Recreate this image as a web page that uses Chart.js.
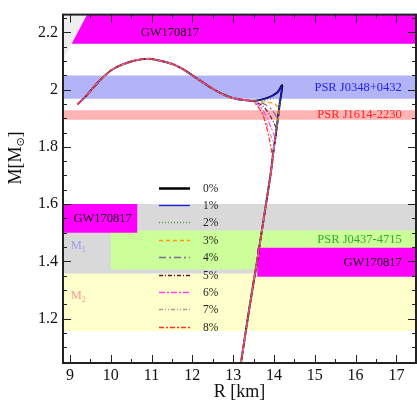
<!DOCTYPE html>
<html>
<head>
<meta charset="utf-8">
<script src="https://cdn.jsdelivr.net/npm/chart.js@4.4.1/dist/chart.umd.min.js"></script>
<style>
  html, body { margin: 0; padding: 0; background: #fff; }
  #wrap { width: 417px; height: 402px; }
</style>
</head>
<body>
<div id="wrap"><canvas id="myChart" width="417" height="402"></canvas></div>
<script>
      // Axis limits and ticks
      const rMin = 8.83, rMax = 17.48;
      const mMin = 1.045, mMax = 2.262;
      const xTicks = [9, 10, 11, 12, 13, 14, 15, 16, 17];
      const yTicks = [1.2, 1.4, 1.6, 1.8, 2, 2.2];

      const curveLabels = ['0%', '1%', '2%', '3%', '4%', '5%', '6%', '7%', '8%'];

      // left branch, common to all curves (R km, M Msun)
      const upperR = [9.19, 9.41, 9.73, 10.06, 10.54, 10.95, 11.20, 11.52, 11.76, 12.01, 12.25, 12.50, 12.74, 12.98, 13.31];
      const upperM = [1.949, 1.980, 2.032, 2.072, 2.100, 2.108, 2.101, 2.089, 2.072, 2.049, 2.026, 2.003, 1.984, 1.971, 1.963];

      // stable branch going down to the bottom axis
      const stableR = [14.20, 14.14, 14.08, 14.00, 13.92, 13.75, 13.585, 13.40, 13.19];
      const stableM = [2.015, 1.95, 1.88, 1.80, 1.707, 1.55, 1.40, 1.24, 1.045];

      // the part near the cusp, one per curve
      const bendR = [
        [13.55, 13.84, 14.08, 14.20],
        [13.55, 13.84, 14.08, 14.19],
        [13.55, 13.84, 14.05, 14.15],
        [13.55, 13.83, 14.02, 14.12],
        [13.55, 13.78, 13.95, 14.09],
        [13.52, 13.72, 13.88, 14.06],
        [13.49, 13.66, 13.80, 13.92, 14.03],
        [13.46, 13.62, 13.76, 13.87, 14.00],
        [13.45, 13.55, 13.71, 13.80, 13.88, 13.94, 13.965]
      ];
      const bendM = [
        [1.961, 1.971, 1.990, 2.015],
        [1.961, 1.970, 1.988, 2.010],
        [1.960, 1.964, 1.972, 1.962],
        [1.960, 1.956, 1.950, 1.930],
        [1.959, 1.948, 1.930, 1.895],
        [1.959, 1.943, 1.915, 1.860],
        [1.960, 1.942, 1.910, 1.870, 1.830],
        [1.961, 1.943, 1.905, 1.860, 1.800],
        [1.961, 1.950, 1.918, 1.878, 1.832, 1.786, 1.760]
      ];

      // mass bands (null R = full width)
      const bandNames = ['M2', 'M1', 'PSR J0437-4715', 'GW170817 M1', 'GW170817 M2', 'PSR J1614-2230', 'PSR J0348+0432'];
      const bandRlo = [null, null, 10.0, null, 13.59, null, null];
      const bandRhi = [null, null, null, 10.65, null, null, null];
      const bandMlo = [1.157, 1.357, 1.372, 1.50, 1.346, 1.895, 1.968];
      const bandMhi = [1.357, 1.600, 1.508, 1.60, 1.448, 1.928, 2.049];

      // GW170817 upper limit region (top) and its grey shade
      const gwTopR = [9.415, rMax, rMax, 9.04];
      const gwTopM = [mMax, mMax, 2.16, 2.16];
      const gwShadeR = [rMin, 9.415, 9.04, rMin];
      const gwShadeM = [mMax, mMax, 2.16, 2.103];

      // Styles
      const curveColors = ['#000000', '#1a1aee', '#4aa04a', '#ff9900', '#7f6a9f', '#6b1038', '#ff44ff', '#c0909a', '#ff3030'];
      const curveWidths = [2, 1.2, 1.2, 1.2, 1.2, 1.2, 1.2, 1.2, 1.2];
      const curveDashes = [[], [], [1, 2], [4, 3], [7, 3, 2, 3], [4, 2, 1, 2], [6, 2, 2, 2], [4, 2, 1, 2, 1, 2], [5, 2, 2, 2]];
      const bandColors = ['#ffffcc', '#d9d9d9', '#ccff99', '#ff00ff', '#ff00ff', '#ffb3b3', '#b3b3f7'];
      const bandOrder = [30, 30, 25, 20, 20, 22, 22];

      const serif = "'Liberation Serif', 'Times New Roman', serif";

      function curvePoints(i) {
        const pts = [];
        const r0 = bendR[i][0];
        for (let k = 0; k < upperR.length; k++) {
          if (upperR[k] < r0) pts.push({x: upperR[k], y: upperM[k]});
        }
        for (let k = 0; k < bendR[i].length; k++) {
          pts.push({x: bendR[i][k], y: bendM[i][k]});
        }
        const mJoin = bendM[i][bendM[i].length - 1];
        for (let k = 0; k < stableR.length; k++) {
          if (stableM[k] < mJoin) pts.push({x: stableR[k], y: stableM[k]});
        }
        return pts;
      }

      function polygon(rs, ms) {
        return rs.map((r, k) => ({x: r, y: ms[k]}));
      }

      const datasets = [];

      // curves, 8% on top
      curveLabels.forEach((lab, i) => {
        datasets.push({
          label: lab,
          data: curvePoints(i),
          showLine: true,
          borderColor: curveColors[i],
          borderWidth: curveWidths[i],
          borderDash: curveDashes[i],
          pointRadius: 0,
          tension: 0.25,
          fill: false,
          order: 10 - i
        });
      });

      bandNames.forEach((name, i) => {
        const r1 = bandRlo[i] === null ? rMin : bandRlo[i];
        const r2 = bandRhi[i] === null ? rMax : bandRhi[i];
        datasets.push({
          label: name,
          data: polygon([r1, r2, r2, r1], [bandMlo[i], bandMlo[i], bandMhi[i], bandMhi[i]]),
          showLine: true,
          borderWidth: 0,
          borderColor: 'rgba(0,0,0,0)',
          backgroundColor: bandColors[i],
          pointRadius: 0,
          tension: 0,
          fill: 'shape',
          order: bandOrder[i]
        });
      });

      datasets.push({
        label: 'GW170817 shade',
        data: polygon(gwShadeR, gwShadeM),
        showLine: true, borderWidth: 0, borderColor: 'rgba(0,0,0,0)',
        backgroundColor: '#eeeeee', pointRadius: 0, tension: 0, fill: 'shape', order: 40
      });
      datasets.push({
        label: 'GW170817 top',
        data: polygon(gwTopR, gwTopM),
        showLine: true, borderWidth: 0, borderColor: 'rgba(0,0,0,0)',
        backgroundColor: '#ff00ff', pointRadius: 0, tension: 0, fill: 'shape', order: 40
      });

      // Frame, inward ticks, labels, legend
      const decorations = {
        id: 'decorations',
        afterDraw: (chart) => {
          const ctx = chart.ctx;
          const a = chart.chartArea;
          const xs = chart.scales.x, ys = chart.scales.y;
          ctx.save();

          // ticks
          ctx.strokeStyle = '#222';
          ctx.lineWidth = 1;
          ctx.beginPath();
          for (let v = 9; v <= 17.01; v += 0.5) {
            const px = Math.round(xs.getPixelForValue(v)) + 0.5;
            const len = Math.abs(v - Math.round(v)) < 0.01 ? 8 : 4;
            ctx.moveTo(px, a.bottom); ctx.lineTo(px, a.bottom - len);
            ctx.moveTo(px, a.top); ctx.lineTo(px, a.top + len);
          }
          for (let k = 21; k <= 45; k++) {
            const v = k * 0.05;
            const py = Math.round(ys.getPixelForValue(v)) + 0.5;
            const len = k % 4 === 0 ? 8 : 4;
            ctx.moveTo(a.left, py); ctx.lineTo(a.left + len, py);
            ctx.moveTo(a.right, py); ctx.lineTo(a.right - len, py);
          }
          ctx.stroke();

          // frame
          ctx.lineWidth = 2;
          ctx.strokeStyle = '#222';
          ctx.strokeRect(a.left, a.top, a.right - a.left, a.bottom - a.top);

          // band labels
          ctx.font = '12.5px ' + serif;
          ctx.textBaseline = 'middle';
          const txt = (s, color, r, m, align) => {
            ctx.fillStyle = color;
            ctx.textAlign = align;
            ctx.fillText(s, xs.getPixelForValue(r), ys.getPixelForValue(m));
          };
          txt('GW170817', '#111', 11.45, 2.2, 'center');
          txt('PSR J0348+0432', '#2222ee', 17.13, 2.005, 'right');
          txt('PSR J1614-2230', '#ff2222', 17.13, 1.911, 'right');
          txt('GW170817', '#111', 9.8, 1.55, 'center');
          txt('PSR J0437-4715', '#33aa33', 17.13, 1.476, 'right');
          txt('GW170817', '#111', 17.13, 1.397, 'right');

          const sub = (s, subTxt, color, r, m) => {
            const px = xs.getPixelForValue(r), py = ys.getPixelForValue(m);
            ctx.fillStyle = color;
            ctx.textAlign = 'left';
            ctx.font = '12.5px ' + serif;
            ctx.fillText(s, px, py);
            const w = ctx.measureText(s).width;
            ctx.font = '8px ' + serif;
            ctx.fillText(subTxt, px + w, py + 4);
          };
          sub('M', '1', '#9d9df0', 9.02, 1.454);
          sub('M', '2', '#ff9a9a', 9.02, 1.28);

          // legend
          const lx = a.left + 96, ly = a.top + 173;
          ctx.font = '11.5px ' + serif;
          curveLabels.forEach((lab, i) => {
            const y = Math.round(ly + i * 17.4) + 0.5;
            ctx.strokeStyle = curveColors[i];
            ctx.lineWidth = i === 0 ? 2.5 : 1.3;
            ctx.setLineDash(curveDashes[i]);
            ctx.beginPath();
            ctx.moveTo(lx, y); ctx.lineTo(lx + 31, y);
            ctx.stroke();
            ctx.setLineDash([]);
            ctx.fillStyle = '#222';
            ctx.textAlign = 'left';
            ctx.fillText(lab, lx + 44, y);
          });

          // axis titles
          ctx.fillStyle = '#111';
          ctx.font = '18px ' + serif;
          ctx.textAlign = 'center';
          ctx.textBaseline = 'middle';
          ctx.fillText('R [km]', (a.left + a.right) / 2, 392);

          ctx.translate(16, 158);
          ctx.rotate(-Math.PI / 2);
          ctx.textAlign = 'left';
          const p1 = 'M[M', p3 = ']';
          ctx.font = '18px ' + serif;
          const w1 = ctx.measureText(p1).width;
          ctx.font = '11px DejaVu Sans';
          const w2 = ctx.measureText('\u2299').width;
          ctx.font = '18px ' + serif;
          const w3 = ctx.measureText(p3).width;
          let x0 = -(w1 + w2 + w3) / 2;
          ctx.fillText(p1, x0, 0);
          ctx.font = '11px DejaVu Sans';
          ctx.fillText('\u2299', x0 + w1, 5);
          ctx.font = '18px ' + serif;
          ctx.fillText(p3, x0 + w1 + w2, 0);
          ctx.restore();
        }
      };

      // Config Block
      const config = {
        type: 'scatter',
        data: { datasets: datasets },
        options: {
          responsive: false,
          animation: false,
          devicePixelRatio: 1,
          layout: { padding: { top: 9, right: 1, left: 0, bottom: 0 } },
          plugins: {
            legend: { display: false },
            tooltip: { enabled: false }
          },
          scales: {
            x: {
              type: 'linear',
              min: rMin, max: rMax,
              grid: { display: false, drawTicks: false },
              border: { display: false },
              afterBuildTicks: (scale) => { scale.ticks = xTicks.map(v => ({ value: v })); },
              afterFit: (scale) => { scale.height = 39; },
              ticks: {
                padding: 3,
                color: '#111',
                font: { family: serif, size: 16 },
                callback: (v) => String(v)
              }
            },
            y: {
              type: 'linear',
              min: mMin, max: mMax,
              grid: { display: false, drawTicks: false },
              border: { display: false },
              afterBuildTicks: (scale) => { scale.ticks = yTicks.map(v => ({ value: v })); },
              afterFit: (scale) => { scale.width = 63; },
              ticks: {
                padding: 5,
                color: '#111',
                font: { family: serif, size: 16 },
                callback: (v) => String(Math.round(v * 10) / 10)
              }
            }
          }
        },
        plugins: [decorations]
      };

      // Render block
      const myChart = new Chart(document.getElementById('myChart'), config);
</script>
</body>
</html>
